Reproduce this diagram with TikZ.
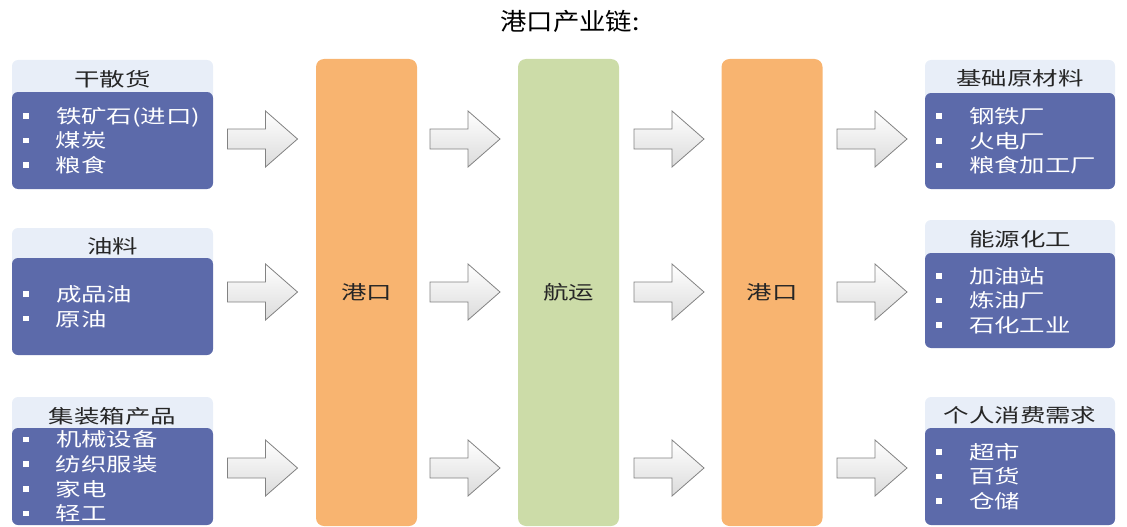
\documentclass[tikz,border=0pt]{standalone}
\usepackage{fontspec}
\setmainfont[FakeStretch=1.34]{Noto Sans CJK SC}
\newfontfamily\titlefont[FakeStretch=1.1]{Noto Sans CJK SC}
\definecolor{bodyc}{RGB}{92,106,170}
\definecolor{headc}{RGB}{232,238,248}
\definecolor{orangec}{RGB}{248,180,112}
\definecolor{greenc}{RGB}{204,220,168}
\definecolor{arrowline}{RGB}{130,130,130}
\newcommand{\itm}[1]{\makebox[33pt][l]{\rule[4.6pt]{6pt}{5.5pt}}#1}
\tikzset{
  head/.style={fill=headc, rounded corners=6pt, minimum width=201pt, minimum height=40pt, inner sep=0pt,
    text=black!85, font=\fontsize{19}{24}\selectfont},
  body/.style={fill=bodyc, rounded corners=6pt, minimum width=201pt, text width=179pt, inner xsep=11pt, inner ysep=0pt,
    align=left, text=white, font=\fontsize{19}{24.6}\selectfont},
  bar/.style={rounded corners=8pt, minimum width=101pt, minimum height=467pt, inner sep=0pt,
    text=black!85, font=\fontsize{19}{24}\selectfont},
  fatarrow/.pic={\draw[draw=arrowline, line width=0.8pt, line join=miter, top color=white, bottom color=black!14]
    (-35,-10) -- (3,-10) -- (3,-28) -- (35,0) -- (3,28) -- (3,10) -- (-35,10) -- cycle;}
}
\begin{document}
\begin{tikzpicture}[x=1pt,y=-1pt]
\useasboundingbox (0,0) rectangle (1127,527);
\node[font=\titlefont\fontsize{24}{28}\selectfont, text=black] (title) at (570,21) {港口产业链:};
% bars
\node[bar, fill=orangec] (port1) at (366.5,292.5) {港口};
\node[bar, fill=greenc] (ship) at (568.5,292.5) {航运};
\node[bar, fill=orangec] (port2) at (772,292.5) {港口};
% left boxes
\node[head] (lh1) at (112.5,80) {\raisebox{4pt}{干散货}};
\node[body, minimum height=97pt] (lb1) at (112.5,140.5) {\itm{铁矿石(进口)}\\\itm{煤炭}\\\itm{粮食}};
\node[head] (lh2) at (112.5,248) {\raisebox{4pt}{油料}};
\node[body, minimum height=97pt] (lb2) at (112.5,306.5) {\itm{成品油}\\\itm{原油}};
\node[head] (lh3) at (112.5,417) {\raisebox{4pt}{集装箱产品}};
\node[body, minimum height=97pt] (lb3) at (112.5,476.5) {\itm{机械设备}\\\itm{纺织服装}\\\itm{家电}\\\itm{轻工}};
% right boxes
\node[head, minimum width=190pt] (rh1) at (1020,80) {\raisebox{4pt}{基础原材料}};
\node[body, minimum width=190pt, text width=168pt, minimum height=96pt] (rb1) at (1020,141) {\itm{钢铁厂}\\\itm{火电厂}\\\itm{粮食加工厂}};
\node[head, minimum width=190pt] (rh2) at (1020,240) {\raisebox{4pt}{能源化工}};
\node[body, minimum width=190pt, text width=168pt, minimum height=95pt] (rb2) at (1020,300.5) {\itm{加油站}\\\itm{炼油厂}\\\itm{石化工业}};
\node[head, minimum width=190pt] (rh3) at (1020,417) {\raisebox{4pt}{个人消费需求}};
\node[body, minimum width=190pt, text width=168pt, minimum height=97pt] (rb3) at (1020,476.5) {\itm{超市}\\\itm{百货}\\\itm{仓储}};
% arrows
\foreach \r/\yy in {1/139,2/292,3/468}{
  \foreach \c/\xx in {1/262.5,2/465,3/669,4/872}{
    \pic (arr\c\r) at (\xx,\yy) {fatarrow};
  }
}
\end{tikzpicture}
\end{document}
